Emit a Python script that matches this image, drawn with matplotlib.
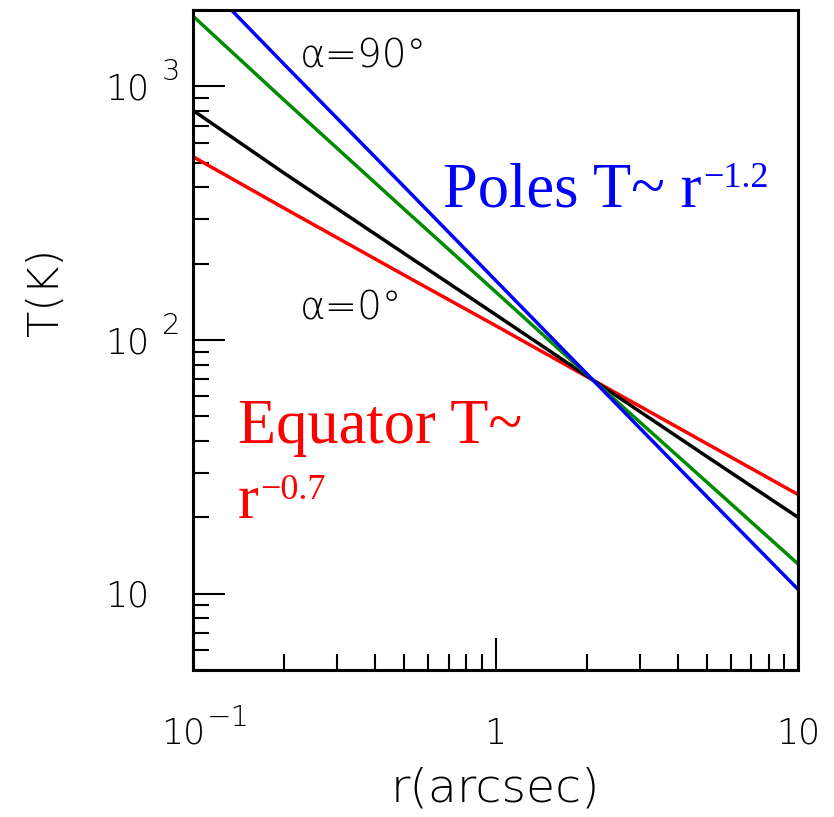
import numpy as np
import matplotlib
matplotlib.use('Agg')
import matplotlib.pyplot as plt

# temperature profiles T(r), for several angles alpha
r = [0.1, 0.2, 0.5, 1.0, 2.1, 5.0, 10.0]
T_equator = [528, 331, 180, 114, 69.5, 39.0, 24.6]     # alpha = 0 deg (red)
T_mid1 = [804, 455, 219, 126, 69.5, 34.7, 20.0]        # black
T_mid2 = [1892, 883, 327, 155, 69.5, 27.5, 13.1]       # green
T_poles = [2863, 1223, 401, 172, 69.5, 24.1, 10.4]     # alpha = 90 deg (blue)

xtick_vals = [0.1, 1, 10]
xtick_base = ['10', '1', '10']
xtick_exp = ['\u22121', '', '']
ytick_vals = [10, 100, 1000]
ytick_base = ['10', '10', '10']
ytick_exp = ['', '2', '3']

plt.rcParams['font.family'] = 'DejaVu Sans'

fig = plt.figure(figsize=(8.34, 8.17), dpi=100)
ax = fig.add_axes([193 / 834, 1 - 670 / 817, 605 / 834, 660 / 817])

ax.plot(r, T_equator, color='#ff0000', lw=2.5)
ax.plot(r, T_mid1, color='black', lw=2.5)
ax.plot(r, T_mid2, color='#008c00', lw=2.5)
ax.plot(r, T_poles, color='#0000ff', lw=2.5)

ax.set_xscale('log')
ax.set_yscale('log')
ax.set_xlim(0.1, 10)
ax.set_ylim(5, 2000)

for s in ax.spines.values():
    s.set_linewidth(2.2)
ax.tick_params(which='both', direction='in', top=False, right=False,
               labelleft=False, labelbottom=False, width=1.5)
ax.tick_params(which='major', length=23)
ax.tick_params(which='minor', length=11.5)


def add_exp(base, txt, size, gap, rise, **kw):
    # superscript attached to the right/bottom corner of the base text
    if txt:
        ax.annotate(txt, xy=(1, 0), xycoords=base, xytext=(gap, rise),
                    textcoords='offset points', ha='left', va='baseline',
                    fontsize=size, **kw)


tick_kw = dict(fontsize=25, fontweight='light')
for v, b, e in zip(xtick_vals, xtick_base, xtick_exp):
    shift = -7 if e else 0
    t = ax.annotate(b, xy=(v, 0), xycoords=('data', 'axes fraction'),
                    xytext=(shift, -53), textcoords='offset points',
                    ha='center', va='baseline', **tick_kw)
    add_exp(t, e, 21, 1, 18, fontweight='light')
for v, b, e in zip(ytick_vals, ytick_base, ytick_exp):
    t = ax.annotate(b, xy=(0, v), xycoords=('axes fraction', 'data'),
                    xytext=(-63, -9.5), textcoords='offset points',
                    ha='left', va='baseline', **tick_kw)
    add_exp(t, e, 21, 9, 19, fontweight='light')

fig.text(495 / 834, 1 - 788 / 817, 'r(arcsec)', ha='center', va='center',
         fontsize=34, fontweight='light')
fig.text(45 / 834, 1 - 292 / 817, 'T(K)', ha='center', va='center',
         rotation=90, fontsize=31, fontweight='light')

ax.text(0.226, 1189, 'α=90°', fontsize=28, fontweight='light', va='baseline')
ax.text(0.226, 120, 'α=0°', fontsize=28, fontweight='light', va='baseline')

serif = dict(family='Liberation Serif', va='baseline')
t = ax.text(0.671, 336, 'Poles T~ r', color='#0000ff', fontsize=45, **serif)
add_exp(t, '\u22121.2', 26, 1, 24, color='#0000ff', family='Liberation Serif')
ax.text(0.141, 39.2, 'Equator T~', color='#ff0000', fontsize=45, **serif)
t = ax.text(0.141, 19.8, 'r', color='#ff0000', fontsize=45, **serif)
add_exp(t, '\u22120.7', 26, 1, 24, color='#ff0000', family='Liberation Serif')

fig.savefig('out.png', dpi=100)
